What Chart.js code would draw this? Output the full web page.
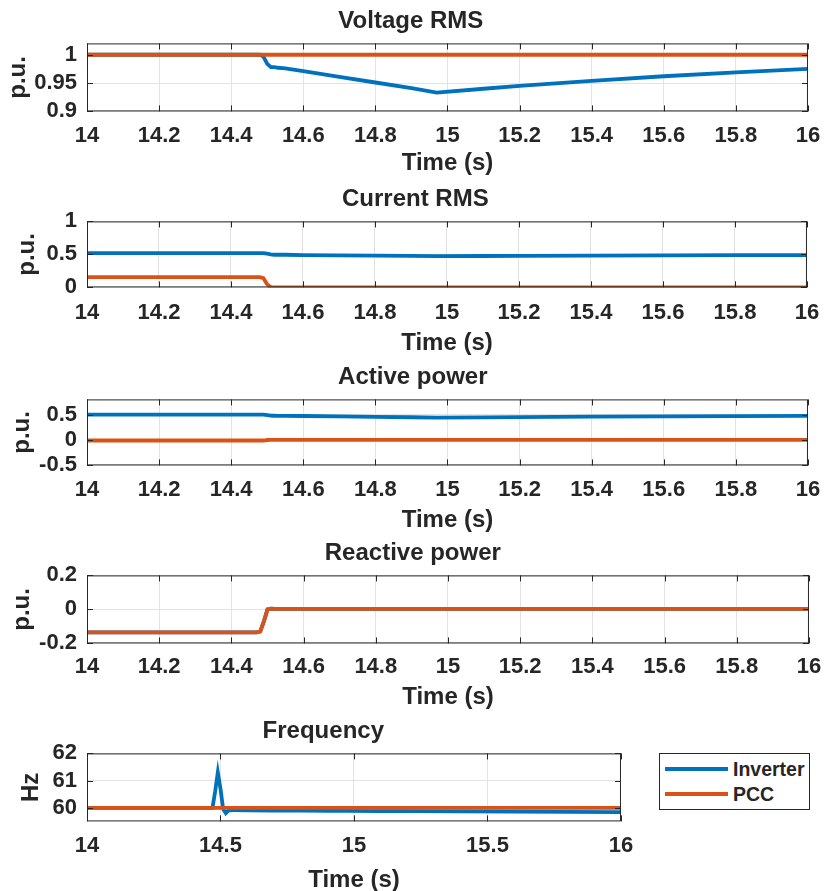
<!DOCTYPE html>
<html>
<head>
<meta charset="utf-8">
<script src="https://cdn.jsdelivr.net/npm/chart.js@4.4.1/dist/chart.umd.min.js"></script>
<style>
  body { margin: 0; background: #fff; }
  #page { position: relative; width: 832px; height: 891px; background: #fff; overflow: hidden; }
  .plot { position: absolute; left: 0; }
  #legend {
    position: absolute; left: 659px; top: 753px; width: 149px; height: 55px;
    border: 1px solid #262626; background: #fff;
    font: bold 19.5px "Liberation Sans", Arial, sans-serif; color: #262626;
  }
  .leg-item { position: absolute; left: 5px; height: 24px; display: flex; align-items: center; white-space: nowrap; }
  .leg-line { width: 63px; height: 4px; margin-right: 5px; }
</style>
</head>
<body>
<div id="page">
  <div class="plot" id="p1"><canvas id="c1"></canvas></div>
  <div class="plot" id="p2"><canvas id="c2"></canvas></div>
  <div class="plot" id="p3"><canvas id="c3"></canvas></div>
  <div class="plot" id="p4"><canvas id="c4"></canvas></div>
  <div class="plot" id="p5"><canvas id="c5"></canvas></div>
  <div id="legend"></div>
</div>
<script>
// time samples (s)
const time = [14, 14.2, 14.4, 14.47, 14.48, 14.49, 14.5, 14.51, 14.52, 14.53, 14.55, 14.6, 14.7, 14.8, 14.9, 14.97, 15.1, 15.2, 15.4, 15.6, 15.8, 16];

const voltInverter = [1, 1, 1, 1, 1, 0.996, 0.984, 0.978, 0.978, 0.977, 0.976, 0.971, 0.961, 0.951, 0.941, 0.933, 0.940, 0.945, 0.954, 0.962, 0.969, 0.975];
const voltPCC = [1, 1, 1, 1, 1, 1, 1, 1, 1, 1, 1, 1, 1, 1, 1, 1, 1, 1, 1, 1, 1, 1];

const currInverter = [0.52, 0.52, 0.52, 0.52, 0.52, 0.52, 0.51, 0.5, 0.495, 0.495, 0.495, 0.49, 0.485, 0.48, 0.477, 0.475, 0.476, 0.478, 0.482, 0.486, 0.489, 0.49];
const currPCC = [0.155, 0.155, 0.155, 0.155, 0.155, 0.14, 0.05, 0.005, 0, 0, 0, 0, 0, 0, 0, 0, 0, 0, 0, 0, 0, 0];

const activeInverter = [0.5, 0.5, 0.5, 0.5, 0.5, 0.5, 0.49, 0.48, 0.478, 0.477, 0.476, 0.473, 0.465, 0.455, 0.448, 0.44, 0.445, 0.45, 0.46, 0.466, 0.47, 0.474];
const activePCC = [-0.01, -0.01, -0.01, -0.01, -0.01, -0.01, 0, 0.003, 0.003, 0.003, 0.003, 0.003, 0.003, 0.003, 0.003, 0.003, 0.003, 0.003, 0.003, 0.003, 0.003, 0.003];

const reactInverter = [-0.135, -0.135, -0.135, -0.135, -0.13, -0.07, 0, 0.004, 0.003, 0.003, 0.003, 0.003, 0.003, 0.003, 0.003, 0.003, 0.003, 0.003, 0.003, 0.003, 0.003, 0.003];
const reactPCC = [-0.135, -0.135, -0.135, -0.135, -0.13, -0.07, 0, 0.004, 0.003, 0.003, 0.003, 0.003, 0.003, 0.003, 0.003, 0.003, 0.003, 0.003, 0.003, 0.003, 0.003, 0.003];

const freqInverter = [60, 60, 60, 60, 60.6, 61.3, 60.7, 59.95, 59.8, 59.9, 59.92, 59.91, 59.9, 59.9, 59.89, 59.89, 59.88, 59.88, 59.87, 59.86, 59.85, 59.84];
const freqPCC = [60, 60, 60, 60, 60, 60, 60, 60, 60, 60, 60, 60, 60, 60, 60, 60, 60, 60, 60, 60, 60, 60];

const seriesNames = ['Inverter', 'PCC'];
const seriesColors = ['#0072BD', '#D95319'];

// tick values
const xTicksFine = [14, 14.2, 14.4, 14.6, 14.8, 15, 15.2, 15.4, 15.6, 15.8, 16];
const xTicksCoarse = [14, 14.5, 15, 15.5, 16];
const yTicksVolt = [0.9, 0.95, 1];
const yTicksCurr = [0, 0.5, 1];
const yTicksActive = [-0.5, 0, 0.5];
const yTicksReact = [-0.2, 0, 0.2];
const yTicksFreq = [60, 61, 62];

const FONT = '"Liberation Sans", Arial, Helvetica, sans-serif';
const INK = '#262626';
const TITLE_SIZE = 24;
const TICK_SIZE = 22;

// frame + inward tick marks, like the matlab axes box
const boxPlugin = {
  id: 'box',
  afterDraw(chart) {
    const { ctx, chartArea: a, scales: { x, y } } = chart;
    ctx.save();
    ctx.strokeStyle = INK;
    ctx.lineWidth = 1;
    ctx.beginPath();
    x.ticks.forEach(t => {
      const px = Math.round(x.getPixelForValue(t.value)) + 0.5;
      ctx.moveTo(px, a.bottom); ctx.lineTo(px, a.bottom - 6);
      ctx.moveTo(px, a.top); ctx.lineTo(px, a.top + 6);
    });
    y.ticks.forEach(t => {
      const py = Math.round(y.getPixelForValue(t.value)) + 0.5;
      ctx.moveTo(a.left, py); ctx.lineTo(a.left + 6, py);
      ctx.moveTo(a.right, py); ctx.lineTo(a.right - 6, py);
    });
    ctx.stroke();
    ctx.strokeRect(a.left + 0.5, a.top + 0.5, a.width - 1, a.height - 1);
    ctx.restore();
  }
};

function fmt(v) {
  return String(+v.toFixed(2));
}

function makePlot(n, p) {
  const div = document.getElementById('p' + n);
  const titleLH = TITLE_SIZE * 1.2;
  const titleTop = 9;
  const titleBottom = 22 - titleLH / 2;
  const divTop = p.boxTop - (titleTop + titleLH + titleBottom);
  const xH = p.xTitle - p.boxBottom + titleLH / 2;
  div.style.top = divTop + 'px';
  div.style.width = p.width + 'px';
  div.style.height = (p.boxBottom + xH - divTop) + 'px';
  const padL = p.yTitleX - titleLH / 2;

  return new Chart(document.getElementById('c' + n), {
    type: 'line',
    data: {
      datasets: [
        { label: seriesNames[0], data: time.map((t, i) => ({ x: t, y: p.inv[i] })), borderColor: seriesColors[0], backgroundColor: seriesColors[0], order: 1 },
        { label: seriesNames[1], data: time.map((t, i) => ({ x: t, y: p.pcc[i] })), borderColor: seriesColors[1], backgroundColor: seriesColors[1], order: 0 }
      ]
    },
    options: {
      responsive: true,
      maintainAspectRatio: false,
      animation: false,
      events: [],
      elements: { line: { borderWidth: 3.8, tension: 0 }, point: { radius: 0 } },
      layout: { padding: { left: padL, right: p.width - p.right, top: 0, bottom: 0 } },
      plugins: {
        legend: { display: false },
        tooltip: { enabled: false },
        title: {
          display: true, text: p.title, color: INK,
          font: { family: FONT, size: TITLE_SIZE, weight: 'bold' },
          padding: { top: titleTop, bottom: titleBottom }
        }
      },
      scales: {
        x: {
          type: 'linear', min: 14, max: 16,
          afterBuildTicks: s => { s.ticks = p.xTicks.map(v => ({ value: v })); },
          afterFit: s => { s.height = xH; },
          ticks: { color: INK, padding: p.xLabel - p.boxBottom - TICK_SIZE * 0.6, maxRotation: 0, autoSkip: false,
                   font: { family: FONT, size: TICK_SIZE, weight: 'bold' }, callback: v => fmt(v) },
          grid: { color: '#e3e3e3', drawTicks: false },
          border: { display: false },
          title: { display: true, text: 'Time (s)', color: INK, padding: 0,
                   font: { family: FONT, size: TITLE_SIZE, weight: 'bold' } }
        },
        y: {
          min: p.yMin, max: p.yMax,
          afterBuildTicks: s => { s.ticks = p.yTicks.map(v => ({ value: v })); },
          afterFit: s => { s.width = 87 - padL; },
          ticks: { color: INK, padding: 10, autoSkip: false,
                   font: { family: FONT, size: TICK_SIZE, weight: 'bold' }, callback: v => fmt(v) },
          grid: { color: '#e3e3e3', drawTicks: false },
          border: { display: false },
          title: { display: true, text: p.yTitle, color: INK, padding: 0,
                   font: { family: FONT, size: TITLE_SIZE, weight: 'bold' } }
        }
      }
    },
    plugins: [boxPlugin]
  });
}

makePlot(1, { title: 'Voltage RMS', yTitle: 'p.u.', inv: voltInverter, pcc: voltPCC,
  yMin: 0.9, yMax: 1.02, yTicks: yTicksVolt, xTicks: xTicksFine,
  boxTop: 43, boxBottom: 111, xLabel: 136, xTitle: 163, yTitleX: 18, width: 832, right: 818 });

makePlot(2, { title: 'Current RMS', yTitle: 'p.u.', inv: currInverter, pcc: currPCC,
  yMin: 0, yMax: 1, yTicks: yTicksCurr, xTicks: xTicksFine,
  boxTop: 221, boxBottom: 287, xLabel: 313, xTitle: 343, yTitleX: 27, width: 832, right: 818 });

makePlot(3, { title: 'Active power', yTitle: 'p.u.', inv: activeInverter, pcc: activePCC,
  yMin: -0.5, yMax: 0.8, yTicks: yTicksActive, xTicks: xTicksFine,
  boxTop: 399, boxBottom: 465, xLabel: 490, xTitle: 520, yTitleX: 22, width: 832, right: 818 });

makePlot(4, { title: 'Reactive power', yTitle: 'p.u.', inv: reactInverter, pcc: reactPCC,
  yMin: -0.2, yMax: 0.2, yTicks: yTicksReact, xTicks: xTicksFine,
  boxTop: 575, boxBottom: 643, xLabel: 667, xTitle: 697, yTitleX: 22, width: 832, right: 818 });

const freqChart = makePlot(5, { title: 'Frequency', yTitle: 'Hz', inv: freqInverter, pcc: freqPCC,
  yMin: 59.5, yMax: 62, yTicks: yTicksFreq, xTicks: xTicksCoarse,
  boxTop: 753, boxBottom: 821, xLabel: 846, xTitle: 880, yTitleX: 31, width: 645, right: 630 });

// legend built from the frequency chart's datasets
const legend = document.getElementById('legend');
freqChart.data.datasets.forEach((ds, i) => {
  const item = document.createElement('div');
  item.className = 'leg-item';
  item.style.top = (3 + i * 25) + 'px';
  const line = document.createElement('span');
  line.className = 'leg-line';
  line.style.background = ds.borderColor;
  const txt = document.createElement('span');
  txt.textContent = ds.label;
  item.appendChild(line);
  item.appendChild(txt);
  legend.appendChild(item);
});
</script>
</body>
</html>
